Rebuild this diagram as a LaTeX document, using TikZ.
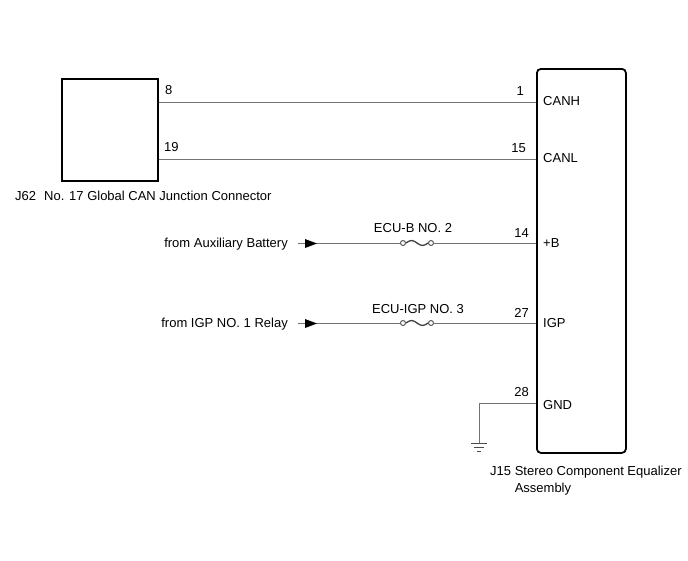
\documentclass[tikz,border=0pt]{standalone}
\usepackage{fontspec}
\setmainfont{Liberation Sans}
\begin{document}
\begin{tikzpicture}[x=1pt,y=-1pt,
  font=\fontsize{13}{17}\selectfont,
  wire/.style={draw=black!55, line width=1pt},
  boxline/.style={draw=black, line width=1.8pt},
  lbl/.style={inner sep=0pt},
  fusecirc/.style={draw=black!65, fill=white, line width=1pt}]
\useasboundingbox (0,0) rectangle (688,560);
% boxes
\node[boxline, anchor=north west, minimum width=96pt, minimum height=102pt, inner sep=0pt] (J62) at (61,78) {};
\node[boxline, rounded corners=4pt, anchor=north west, minimum width=89pt, minimum height=384pt, inner sep=0pt] (J15) at (536,68) {};
% pin names
\node[lbl, anchor=west] (canh) at (543,101.5) {CANH};
\node[lbl, anchor=west] (canl) at (543,158.5) {CANL};
\node[lbl, anchor=west] (pb) at (543,243.5) {+B};
\node[lbl, anchor=west] (igp) at (543,323.5) {IGP};
\node[lbl, anchor=west] (gnd) at (543,405) {GND};
% pin numbers
\node[lbl, anchor=west] at (165,90) {8};
\node[lbl, anchor=west] at (164,147) {19};
\node[lbl, anchor=east] at (524,91) {1};
\node[lbl, anchor=east] at (526,148) {15};
\node[lbl, anchor=east] at (529,233) {14};
\node[lbl, anchor=east] at (529,313) {27};
\node[lbl, anchor=east] at (529,392) {28};
% captions
\node[lbl, anchor=west] at (15,195.5) {J62\hspace{8pt}No. 17 Global CAN Junction Connector};
\node[lbl, anchor=north west, align=left] (cap) at (490,465.5) {J15 Stereo Component Equalizer\\\phantom{J15 }Assembly};
% CAN wires
\draw[wire] (J62.east |- 0,102) -- (J15.west |- 0,102);
\draw[wire] (J62.east |- 0,159) -- (J15.west |- 0,159);
% sources
\node[lbl, anchor=east] (aux) at (288,244) {from Auxiliary Battery};
\node[lbl, anchor=east] (igprel) at (288,324) {from IGP NO. 1 Relay};
\coordinate (a1) at (298,243);
\coordinate (a2) at (298,323);
\node[lbl] at (413,228) {ECU-B NO. 2};
\node[lbl] at (418,309) {ECU-IGP NO. 3};
% fuses
\node[fusecirc, circle, minimum size=5pt, inner sep=0pt] (f1a) at (403,243) {};
\node[fusecirc, circle, minimum size=5pt, inner sep=0pt] (f1b) at (431,243) {};
\node[fusecirc, circle, minimum size=5pt, inner sep=0pt] (f2a) at (403,323) {};
\node[fusecirc, circle, minimum size=5pt, inner sep=0pt] (f2b) at (431,323) {};
\draw[wire] (a1) -- (f1a.west);
\draw[wire] (f1b.east) -- (J15.west |- f1b.east);
\draw[wire] (a2) -- (f2a.west);
\draw[wire] (f2b.east) -- (J15.west |- f2b.east);
\draw[black!75, line width=1.3pt] (f1a.east) sin (411.5,240.5) cos (417,243) sin (422.5,245.5) cos (f1b.west);
\draw[black!75, line width=1.3pt] (f2a.east) sin (411.5,320.5) cos (417,323) sin (422.5,325.5) cos (f2b.west);
% arrows
\fill (305,239) -- (317,243.5) -- (305,248) -- cycle;
\fill (305,319) -- (317,323.5) -- (305,328) -- cycle;
% ground
\coordinate (g) at (479,443);
\draw[wire] (J15.west |- 0,403) -| (g);
\draw[black!70, line width=1pt] (471,443) -- (487,443);
\draw[black!70, line width=1pt] (474,447) -- (484,447);
\draw[black!70, line width=1pt] (477,451) -- (481,451);
\end{tikzpicture}
\end{document}
